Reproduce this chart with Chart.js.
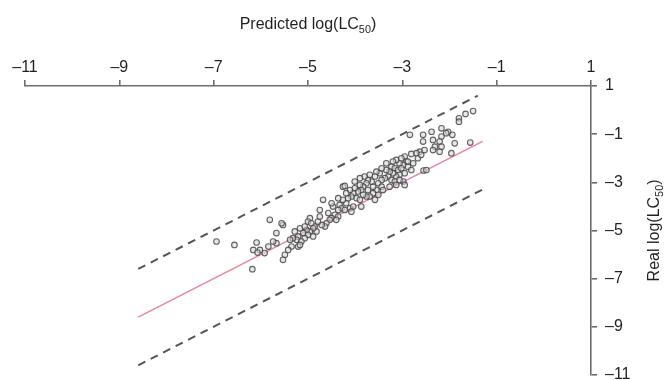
<!DOCTYPE html>
<html>
<head>
<meta charset="utf-8">
<script src="https://cdn.jsdelivr.net/npm/chart.js@4.4.1/dist/chart.umd.min.js"></script>
<style>
  html, body { margin: 0; padding: 0; background: #fff; }
  #wrap { width: 671px; height: 380px; }
</style>
</head>
<body>
<div id="wrap"><canvas id="myChart" width="671" height="380"></canvas></div>
<script>
/*------------------------------------------------------------------------------------------------*/
//datos (predicted = x, real = y)
const predicted = [
  -1.50, -1.66, -1.80, -1.80, -1.56, -1.96, -1.89, -1.94, -2.03, -2.17,
  -2.07, -2.17, -2.21, -2.17, -2.21, -2.35, -2.38, -2.31, -2.35, -2.56,
  -2.56, -2.63, -2.70, -2.67, -2.60, -2.53, -2.84, -2.55, -2.49, -2.81,
  -2.95, -2.91, -2.98, -3.06, -3.13, -3.20, -3.23, -3.16, -3.09, -3.02,
  -2.88, -2.81, -2.95, -3.06, -3.13, -3.20, -3.27, -3.34, -3.30, -3.23,
  -3.16, -2.98, -2.95, -3.13, -3.37, -3.44, -3.48, -3.55, -3.58, -3.51,
  -3.44, -3.41, -3.55, -3.62, -3.65, -3.73, -3.76, -3.80, -3.83, -3.90,
  -3.87, -3.94, -3.62, -3.58, -3.69, -3.76, -3.83, -4.01, -4.04, -3.97,
  -3.90, -4.26, -4.11, -4.08, -4.15, -4.19, -4.26, -4.33, -4.29, -4.22,
  -4.11, -4.04, -3.87, -4.36, -4.43, -4.50, -4.47, -4.57, -4.54, -4.68,
  -4.75, -4.61, -4.64, -4.71, -4.79, -4.86, -4.82, -4.96, -5.00, -4.93,
  -4.89, -4.96, -5.03, -5.10, -5.00, -4.89, -5.07, -5.17, -5.21, -5.24,
  -5.14, -5.32, -5.21, -5.17, -5.35, -5.42, -5.53, -5.56, -5.49, -5.53,
  -5.67, -5.67, -5.74, -5.81, -5.84, -5.92, -6.02, -4.22, -4.36, -4.08,
  -4.40, -6.94, -6.56, -6.09, -6.16, -6.07, -6.18, -3.34, -3.44, -3.69,
  -3.90, -4.01, -4.19, -4.36, -4.50, -3.73, -3.51, -3.27, -3.06, -2.88,
  -2.77, -3.02, -4.75, -5.07, -5.28, -5.38
];
const real = [
  -0.04, -0.16, -0.34, -0.48, -1.35, -1.79, -1.38, -1.03, -0.90, -0.76,
  -0.96, -1.10, -1.31, -1.52, -1.73, -1.24, -0.90, -1.52, -1.66, -1.03,
  -1.31, -1.73, -1.79, -2.00, -1.86, -1.66, -1.03, -2.51, -2.49, -1.82,
  -1.93, -2.14, -2.28, -2.21, -2.07, -2.14, -2.35, -2.42, -2.49, -2.42,
  -2.35, -2.49, -2.62, -2.69, -2.76, -2.62, -2.56, -2.49, -2.76, -2.90,
  -2.97, -2.97, -3.11, -3.11, -2.83, -2.90, -2.62, -2.56, -2.76, -3.04,
  -3.18, -3.32, -3.32, -3.18, -2.97, -2.90, -3.04, -2.76, -3.18, -3.11,
  -3.32, -3.38, -3.45, -3.73, -3.59, -3.59, -3.52, -3.25, -3.45, -3.66,
  -3.73, -3.18, -3.32, -3.59, -3.66, -3.87, -3.73, -3.94, -4.08, -4.15,
  -4.08, -4.01, -4.01, -4.15, -4.35, -4.49, -4.01, -4.28, -4.56, -3.73,
  -4.15, -4.70, -4.84, -4.77, -4.63, -4.84, -5.04, -4.49, -4.63, -4.70,
  -4.91, -5.04, -4.98, -5.11, -5.18, -5.25, -5.32, -4.91, -5.25, -5.39,
  -5.46, -5.32, -5.67, -5.60, -5.67, -5.81, -4.77, -4.70, -6.01, -6.22,
  -5.11, -5.53, -5.46, -4.56, -5.67, -5.94, -5.81, -3.15, -4.42, -4.22,
  -4.56, -5.46, -5.60, -5.50, -5.81, -5.92, -6.61, -2.21, -2.42, -2.69,
  -2.83, -2.97, -3.45, -3.66, -3.87, -3.32, -3.52, -3.18, -2.90, -2.14,
  -2.21, -2.00, -4.42, -4.84, -5.04, -5.39
];

//lineas
const lineX  = [-8.6, -1.3];
const idealY = [-8.6, -1.3];
const upperX = [-8.6, -1.4];
const upperY = [-6.6, 0.6];
const lowerY = [-10.6, -3.3];

//ticks
const tickMin = -11;
const tickMax = 1;
const tickStep = 2;

/*------------------------------------------------------------------------------------------------*/
const toPoints = (xs, ys) => xs.map((x, i) => ({ x: x, y: ys[i] }));
const minus = v => String(v).replace('-', '\u2013');
const FONT = 'Liberation Sans, Arial, Helvetica, sans-serif';

// titulo con subindice
const drawSub = (ctx, parts, x, y, size) => {
    let total = 0;
    parts.forEach(p => {
        ctx.font = (p.sub ? size * 0.68 : size) + 'px ' + FONT;
        total += ctx.measureText(p.t).width;
    });
    let cx = x - total / 2;
    parts.forEach(p => {
        ctx.font = (p.sub ? size * 0.68 : size) + 'px ' + FONT;
        ctx.fillText(p.t, cx, p.sub ? y + size * 0.3 : y);
        cx += ctx.measureText(p.t).width;
    });
};

const titles = {
    id: 'titles',
    afterDraw(chart) {
        const ctx = chart.ctx;
        const a = chart.chartArea;
        ctx.save();
        ctx.fillStyle = '#231f20';
        ctx.textBaseline = 'middle';
        ctx.textAlign = 'left';
        drawSub(ctx, [{ t: 'Predicted log(LC' }, { t: '50', sub: true }, { t: ')' }],
            (a.left + a.right) / 2, 25, 16);
        ctx.translate(655, (a.top + a.bottom) / 2);
        ctx.rotate(-Math.PI / 2);
        drawSub(ctx, [{ t: 'Real log(LC' }, { t: '50', sub: true }, { t: ')' }], 0, 0, 16);
        ctx.restore();
    }
};

/*------------------------------------------------------------------------------------------------*/
//grafico
const axisStyle = {
    min: tickMin,
    max: tickMax,
    border: { display: true, color: '#6d6d6d', width: 1.6 },
    grid: { display: true, drawOnChartArea: false, color: '#6d6d6d', lineWidth: 1.6, tickLength: 6 },
    ticks: {
        stepSize: tickStep,
        color: '#231f20',
        font: { family: FONT, size: 16 },
        maxRotation: 0,
        autoSkip: false,
        callback: v => minus(v)
    }
};

const ctx = document.getElementById('myChart');
const myChart = new Chart(ctx, {
    type: 'scatter',
    data: {
        datasets: [
            {
                label: 'compounds',
                data: toPoints(predicted, real),
                pointRadius: 2.8,
                pointBorderWidth: 1.1,
                pointBorderColor: 'rgba(70,70,70,0.85)',
                pointBackgroundColor: 'rgba(215,215,215,0.6)',
                order: 0
            },
            {
                label: 'ideal',
                type: 'line',
                data: toPoints(lineX, idealY),
                borderColor: '#e8859a',
                borderWidth: 1.5,
                pointRadius: 0,
                order: 1
            },
            {
                label: 'upper',
                type: 'line',
                data: toPoints(upperX, upperY),
                borderColor: '#555',
                borderWidth: 2,
                borderDash: [8, 6],
                pointRadius: 0,
                order: 2
            },
            {
                label: 'lower',
                type: 'line',
                data: toPoints(lineX, lowerY),
                borderColor: '#555',
                borderWidth: 2,
                borderDash: [8, 6],
                pointRadius: 0,
                order: 2
            }
        ]
    },
    options: {
        responsive: false,
        animation: false,
        layout: { padding: { left: 25, right: 0, top: 0, bottom: 5 } },
        plugins: { legend: { display: false }, tooltip: { enabled: false } },
        scales: {
            x: Object.assign({}, axisStyle, {
                type: 'linear',
                position: 'top',
                ticks: Object.assign({}, axisStyle.ticks, { padding: 3 }),
                afterFit: s => { s.height = 86; s.paddingLeft = 0; s.paddingRight = 0; }
            }),
            y: Object.assign({}, axisStyle, {
                type: 'linear',
                position: 'right',
                ticks: Object.assign({}, axisStyle.ticks, { padding: 8 }),
                afterFit: s => { s.width = 80; s.paddingTop = 0; s.paddingBottom = 0; }
            })
        }
    },
    plugins: [titles]
});
</script>
</body>
</html>
